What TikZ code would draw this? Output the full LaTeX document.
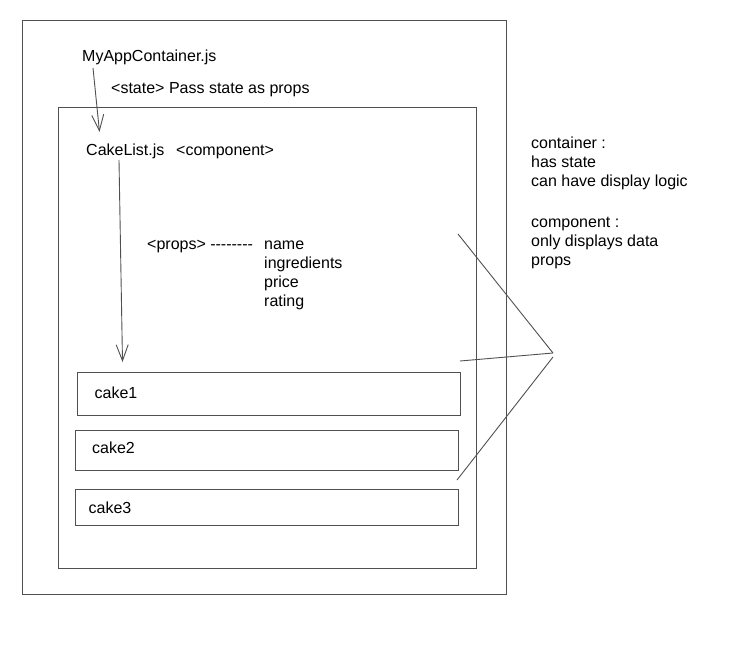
\documentclass[tikz,border=0pt]{standalone}
\usepackage{fontspec}
\setmainfont{Liberation Sans}
\usetikzlibrary{arrows.meta}
\definecolor{linegray}{HTML}{505050}
\tikzset{
  txt/.style={anchor=base west, inner sep=0pt, font=\fontsize{16}{19}\selectfont, text=black},
  frame/.style={draw=linegray, line width=1pt},
  link/.style={draw=linegray, line width=0.9pt},
  flow/.style={draw=linegray, line width=0.9pt, -{Straight Barb[length=16pt,width=12pt]}}
}
\begin{document}
\begin{tikzpicture}[x=1pt,y=-1pt]
\useasboundingbox (0,0) rectangle (729,651);
% frames
\draw[frame] (22,20) rectangle (506,594);
\draw[frame] (58,107) rectangle (476,568);
\node[frame, draw, minimum width=383pt, minimum height=43pt, anchor=north west, inner sep=0pt] (cake1box) at (76.5,372) {};
\node[frame, draw, minimum width=383pt, minimum height=40pt, anchor=north west, inner sep=0pt] (cake2box) at (75,430) {};
\node[frame, draw, minimum width=383pt, minimum height=36pt, anchor=north west, inner sep=0pt] (cake3box) at (75,489) {};
% texts
\node[txt] (app) at (82,61) {MyAppContainer.js};
\node[txt] (state) at (111,93) {<state> Pass state as props};
\node[txt] (list) at (86,155) {CakeList.js};
\node[txt] (comp) at (176,155) {<component>};
\node[txt] (props) at (147,249) {<props> -{}-{}-{}-{}-{}-{}-{}-};
\node[txt] (pname) at (264,249) {name};
\node[txt] (pingr) at (264,268) {ingredients};
\node[txt] (pprice) at (264,287) {price};
\node[txt] (prating) at (264,306) {rating};
\node[txt] (c1) at (94.5,398) {cake1};
\node[txt] (c2) at (92,453) {cake2};
\node[txt] (c3) at (88.5,513) {cake3};
\node[txt] (n1) at (531,148) {container :};
\node[txt] (n2) at (531,167) {has state};
\node[txt] (n3) at (531,186) {can have display logic};
\node[txt] (n4) at (531,227) {component :};
\node[txt] (n5) at (531,246) {only displays data};
\node[txt] (n6) at (531,265) {props};
% arrows
\coordinate (a1s) at (93,68);
\coordinate (a1e) at (99.5,132);
\coordinate (a2s) at (119,160);
\coordinate (a2e) at (122.5,362);
\draw[flow] (a1s) -- (a1e);
\draw[flow] (a2s) -- (a2e);
% pointer lines
\coordinate (tip) at (553,353);
\coordinate (tip2) at (553,357);
\coordinate (l1) at (458,234);
\coordinate (l2) at (460,361);
\coordinate (l3) at (457,480);
\draw[link] (l1) -- (tip);
\draw[link] (l2) -- (tip);
\draw[link] (tip2) -- (l3);
\end{tikzpicture}
\end{document}
